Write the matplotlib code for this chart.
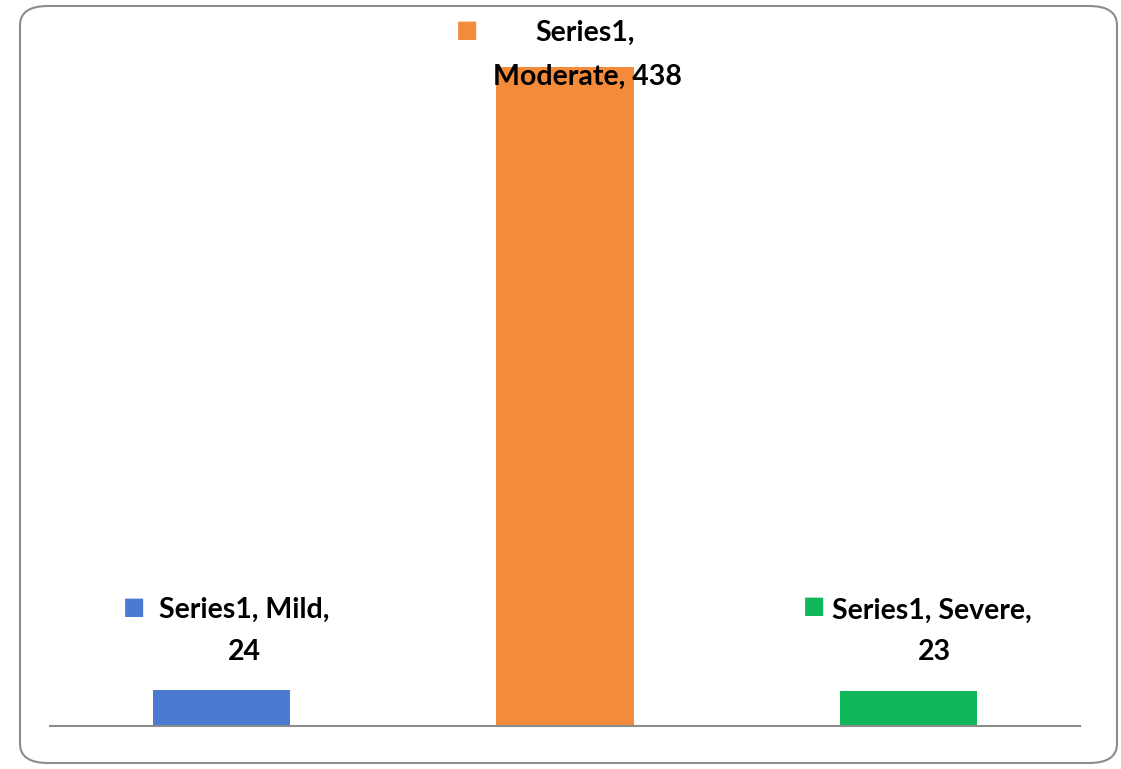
import matplotlib.pyplot as plt
from matplotlib.patches import FancyBboxPatch

# data
categories = ["Mild", "Moderate", "Severe"]
values = [24, 438, 23]
series_name = "Series1"
colors = ["#4a7bd0", "#f38b3b", "#10b759"]

plt.rcParams['font.family'] = ['Lato', 'DejaVu Sans']

fig = plt.figure(figsize=(11.21, 7.69), dpi=100)
ax = fig.add_axes([50 / 1121, 43 / 769, 1030 / 1121, 706 / 769])

x = range(len(categories))
ax.bar(x, values, width=0.4, color=colors, zorder=2)
ax.set_xlim(-0.5, 2.5)
ax.set_ylim(0, 469)

for side in ["top", "left", "right"]:
    ax.spines[side].set_visible(False)
ax.spines["bottom"].set_color("#8c8c8c")
ax.spines["bottom"].set_linewidth(1.5)
ax.set_xticks([])
ax.set_yticks([])

# label layout (pixel offsets from top centre of each bar)
line1 = [f"{series_name}, Mild,", f"{series_name},", f"{series_name}, Severe,"]
line2 = ["24", "Moderate, 438", "23"]
off1 = [(23, 80), (20, 34), (24, 81)]
off2 = [(23, 38), (22, -10), (26, 39)]
offm = [(-88, 83), (-98, 37), (-94, 85)]

for i, v in enumerate(values):
    kw = dict(xy=(i, v), xycoords="data", textcoords="offset pixels",
              ha="center", va="center", fontsize=20.5, fontweight="bold", zorder=3)
    ax.annotate(line1[i], xytext=off1[i], **kw)
    ax.annotate(line2[i], xytext=off2[i], **kw)
    ax.annotate("■", xy=(i, v), xycoords="data", xytext=offm[i],
                textcoords="offset pixels", ha="center", va="center",
                fontsize=17, color=colors[i], family="DejaVu Sans", zorder=3)

# rounded chart border
border = FancyBboxPatch((20 / 1121, 6 / 769), 1097 / 1121, 757 / 769,
                        boxstyle="round,pad=0,rounding_size=0.025",
                        transform=fig.transFigure, fill=False,
                        edgecolor="#8c8c8c", linewidth=1.5)
fig.patches.append(border)

fig.savefig("out.png", dpi=100)
